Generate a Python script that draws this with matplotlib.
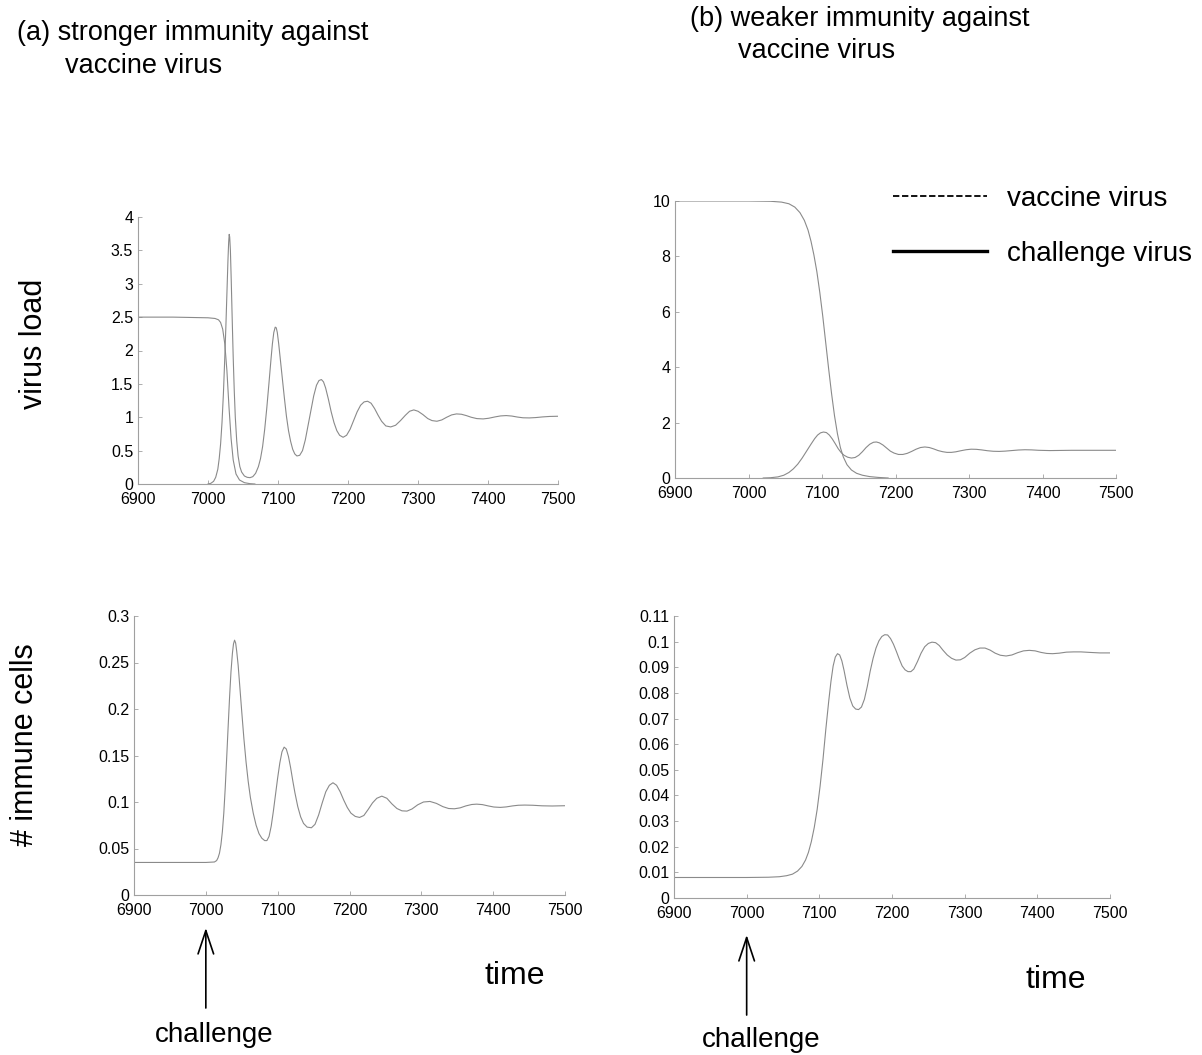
import matplotlib
matplotlib.use("Agg")
import matplotlib.pyplot as plt
from matplotlib.lines import Line2D
from matplotlib.ticker import FuncFormatter

plt.rcParams["font.family"] = ["Liberation Sans", "DejaVu Sans"]

# (a) virus load, vaccine virus (falls after challenge)
tA_vac = [6900, 6950, 7000, 7010, 7015, 7018, 7021, 7024, 7027, 7030, 7033,
          7036, 7040, 7045, 7052, 7060, 7067]
vA_vac = [2.50, 2.50, 2.49, 2.48, 2.46, 2.42, 2.32, 2.10, 1.70, 1.15, 0.68,
          0.36, 0.15, 0.06, 0.02, 0.005, 0.0]

# (a) virus load, challenge virus
tA_ch = [7000, 7004, 7008, 7011, 7014, 7016, 7018, 7020, 7022, 7024, 7025.5,
         7027, 7028.5, 7029.5, 7030.3, 7031, 7032, 7033.2, 7034.5, 7036, 7037.5,
         7039, 7041, 7043, 7045.5, 7048, 7052, 7056, 7060, 7064, 7068, 7072,
         7075, 7078, 7081, 7084, 7087, 7090, 7092, 7094, 7096, 7097.5, 7099,
         7101, 7103, 7106, 7109, 7112, 7115, 7118, 7121, 7124, 7127, 7131,
         7135, 7139, 7143, 7147, 7151, 7155, 7158.5, 7162, 7165, 7168, 7172,
         7176, 7180, 7184, 7188, 7193, 7198, 7203, 7208, 7213, 7218, 7223,
         7228, 7233, 7238, 7243, 7248, 7254, 7261, 7268, 7275, 7282, 7288,
         7294, 7300, 7307, 7314, 7320, 7327, 7334, 7341, 7348, 7355, 7362,
         7369, 7376, 7384, 7393, 7401, 7410, 7418, 7426, 7434, 7442, 7450,
         7459, 7468, 7478, 7488, 7500]
vA_ch = [0.0, 0.01, 0.04, 0.1, 0.22, 0.38, 0.6, 0.92, 1.35, 1.9, 2.35,
         2.85, 3.35, 3.62, 3.74, 3.7, 3.5, 3.05, 2.5, 1.9, 1.4,
         1.0, 0.65, 0.42, 0.26, 0.18, 0.12, 0.1, 0.095, 0.11, 0.16, 0.26,
         0.38, 0.56, 0.82, 1.14, 1.5, 1.87, 2.1, 2.27, 2.35, 2.34, 2.27,
         2.1, 1.9, 1.6, 1.3, 1.02, 0.8, 0.64, 0.52, 0.45, 0.42, 0.43,
         0.5, 0.66, 0.88, 1.1, 1.32, 1.48, 1.55, 1.565, 1.53, 1.44, 1.27,
         1.08, 0.92, 0.8, 0.73, 0.70, 0.73, 0.82, 0.95, 1.08, 1.18, 1.23,
         1.24, 1.21, 1.13, 1.03, 0.94, 0.87, 0.855, 0.88, 0.95, 1.03, 1.09,
         1.11, 1.09, 1.04, 0.98, 0.95, 0.94, 0.96, 1.0, 1.035, 1.05, 1.045,
         1.025, 1.0, 0.98, 0.975, 0.985, 1.005, 1.02, 1.025, 1.018, 1.003, 0.992,
         0.99, 0.995, 1.005, 1.012, 1.015]

# (b) virus load, vaccine virus
tB_vac = [6900, 7000, 7030, 7045, 7055, 7063, 7070, 7076, 7081, 7085, 7089,
          7093, 7097, 7101, 7105, 7109, 7113, 7117, 7121, 7125, 7129, 7134,
          7140, 7147, 7155, 7165, 7177, 7190]
vB_vac = [10, 10, 9.99, 9.96, 9.9, 9.78, 9.58, 9.3, 8.95, 8.55, 8.05,
          7.45, 6.7, 5.85, 4.9, 3.95, 3.05, 2.25, 1.6, 1.1, 0.76, 0.48,
          0.29, 0.17, 0.1, 0.05, 0.02, 0.0]

# (b) virus load, challenge virus
tB_ch = [7020, 7030, 7040, 7048, 7055, 7061, 7067, 7073, 7079, 7085, 7090,
         7094, 7098, 7102, 7106, 7110, 7114, 7118, 7122, 7126, 7130, 7135,
         7140, 7145, 7150, 7155, 7160, 7165, 7170, 7174, 7178, 7183, 7188,
         7193, 7198, 7204, 7210, 7216, 7222, 7228, 7234, 7240, 7246, 7252,
         7258, 7264, 7270, 7276, 7282, 7289, 7296, 7303, 7310, 7317, 7325,
         7333, 7341, 7349, 7358, 7367, 7376, 7385, 7395, 7410, 7425, 7440,
         7460, 7480, 7500]
vB_ch = [0.0, 0.01, 0.04, 0.1, 0.2, 0.33, 0.5, 0.72, 0.97, 1.22, 1.42,
         1.55, 1.63, 1.66, 1.64, 1.55, 1.41, 1.24, 1.06, 0.92, 0.82, 0.75,
         0.72, 0.74, 0.82, 0.95, 1.1, 1.22, 1.29, 1.3, 1.27, 1.19, 1.08,
         0.97, 0.9, 0.85, 0.85, 0.89, 0.96, 1.04, 1.1, 1.12, 1.1, 1.05,
         0.99, 0.95, 0.925, 0.925, 0.945, 0.985, 1.02, 1.04, 1.035, 1.015, 0.985,
         0.965, 0.96, 0.97, 0.99, 1.01, 1.02, 1.015, 1.0, 0.99, 0.995, 1.0,
         1.0, 1.0, 1.0]

# (a) immune cells
tC = [6900, 6950, 7000, 7012, 7015, 7017, 7019, 7021, 7023, 7025, 7027,
      7029, 7031, 7033, 7035, 7037, 7038.5, 7040, 7041.5, 7043, 7045, 7047.5,
      7050, 7053, 7056, 7059, 7062, 7066, 7070, 7074, 7078, 7082, 7085,
      7088, 7091, 7094, 7097, 7100, 7103, 7106, 7109, 7112, 7115, 7118,
      7121, 7124, 7128, 7132, 7136, 7141, 7147, 7152, 7157, 7162, 7167,
      7172, 7177, 7182, 7187, 7192, 7197, 7202, 7208, 7214, 7220, 7226,
      7232, 7238, 7245, 7252, 7259, 7266, 7273, 7280, 7287, 7295, 7303,
      7312, 7321, 7330, 7338, 7346, 7354, 7362, 7370, 7377, 7385, 7393,
      7401, 7410, 7418, 7427, 7435, 7444, 7455, 7468, 7482, 7500]
vC = [0.035, 0.035, 0.035, 0.0355, 0.037, 0.040, 0.045, 0.054, 0.068, 0.088, 0.115,
      0.147, 0.18, 0.212, 0.24, 0.26, 0.27, 0.274, 0.271, 0.262, 0.247, 0.222,
      0.197, 0.168, 0.143, 0.122, 0.105, 0.088, 0.075, 0.066, 0.061, 0.0585, 0.0585,
      0.063, 0.074, 0.09, 0.108, 0.126, 0.142, 0.154, 0.159, 0.157, 0.149, 0.137,
      0.123, 0.11, 0.095, 0.084, 0.077, 0.073, 0.0723, 0.076, 0.086, 0.099, 0.111,
      0.118, 0.1207, 0.118, 0.111, 0.102, 0.094, 0.088, 0.0845, 0.0834, 0.0855, 0.092,
      0.099, 0.104, 0.1063, 0.104, 0.098, 0.093, 0.0905, 0.0902, 0.0925, 0.097, 0.1,
      0.1006, 0.0985, 0.095, 0.093, 0.0927, 0.0937, 0.0958, 0.0973, 0.0977, 0.0972, 0.0958,
      0.0946, 0.0942, 0.0947, 0.0958, 0.0965, 0.0967, 0.0965, 0.0959, 0.0957, 0.096]

# (b) immune cells
tD = [6900, 6950, 7000, 7030, 7045, 7055, 7063, 7070, 7076, 7081, 7085,
      7089, 7093, 7097, 7101, 7105, 7109, 7113, 7116, 7119, 7122, 7125,
      7128, 7131, 7134, 7138, 7142, 7146, 7150, 7154, 7158, 7162, 7166,
      7170, 7174, 7178, 7182, 7186, 7190, 7194, 7198, 7202, 7206, 7210,
      7214, 7218, 7222, 7226, 7230, 7235, 7240, 7245, 7250, 7255, 7260,
      7265, 7270, 7276, 7282, 7288, 7294, 7300, 7307, 7314, 7321, 7328,
      7335, 7342, 7349, 7357, 7365, 7373, 7381, 7389, 7397, 7405, 7413,
      7421, 7430, 7440, 7450, 7460, 7472, 7486, 7500]
vD = [0.008, 0.008, 0.008, 0.0081, 0.0083, 0.0087, 0.0093, 0.0105, 0.0123, 0.0148, 0.0178,
      0.022, 0.0275, 0.0345, 0.0435, 0.054, 0.066, 0.077, 0.0845, 0.0905, 0.094, 0.0953,
      0.0948, 0.0925, 0.0888, 0.083, 0.078, 0.0749, 0.0737, 0.0735, 0.0745, 0.0775, 0.0825,
      0.0885, 0.0935, 0.0975, 0.1003, 0.102, 0.1027, 0.1026, 0.1012, 0.099, 0.0962, 0.0932,
      0.0905, 0.089, 0.0883, 0.0883, 0.0893, 0.0922, 0.0955, 0.098, 0.0993, 0.0998, 0.0996,
      0.0985, 0.0967, 0.0948, 0.0935, 0.0928, 0.0929, 0.0938, 0.0955, 0.0968, 0.0975, 0.0975,
      0.0967, 0.0955, 0.0947, 0.0944, 0.0948, 0.0957, 0.0964, 0.0966, 0.0964, 0.0958, 0.0954,
      0.0953, 0.0955, 0.0959, 0.096, 0.096, 0.0958, 0.0956, 0.0956]

x_ticks = [6900, 7000, 7100, 7200, 7300, 7400, 7500]
yA_ticks = [0, 0.5, 1, 1.5, 2, 2.5, 3, 3.5, 4]
yB_ticks = [0, 2, 4, 6, 8, 10]
yC_ticks = [0, 0.05, 0.1, 0.15, 0.2, 0.25, 0.3]
yD_ticks = [0, 0.01, 0.02, 0.03, 0.04, 0.05, 0.06, 0.07, 0.08, 0.09, 0.1, 0.11]

W, H = 1202, 1055
LINE = "#8a8a8a"
SPINE = "#a0a0a0"


def rect(x0, y0, x1, y1):
    return [x0 / W, 1 - y1 / H, (x1 - x0) / W, (y1 - y0) / H]


def style(ax, yticks):
    ax.set_xlim(6900, 7500)
    ax.set_ylim(yticks[0], yticks[-1])
    ax.set_xticks(x_ticks)
    ax.set_yticks(yticks)
    ax.yaxis.set_major_formatter(FuncFormatter(lambda v, p: "%g" % round(v, 4)))
    for s in ["top", "right"]:
        ax.spines[s].set_visible(False)
    for s in ["left", "bottom"]:
        ax.spines[s].set_color(SPINE)
        ax.spines[s].set_linewidth(0.8)
    ax.tick_params(direction="in", length=3, width=0.6, color=SPINE,
                   labelsize=11.5)
    ax.tick_params(axis="x", pad=6)
    ax.tick_params(axis="y", pad=3.5)


fig = plt.figure(figsize=(W / 100, H / 100), dpi=100)

axA = fig.add_axes(rect(138, 217, 558, 484))
axA.plot(tA_vac, vA_vac, color=LINE, lw=0.8)
axA.plot(tA_ch, vA_ch, color=LINE, lw=0.8)
style(axA, yA_ticks)

axB = fig.add_axes(rect(675, 201, 1116, 478))
axB.plot(tB_vac, vB_vac, color=LINE, lw=0.8)
axB.plot(tB_ch, vB_ch, color=LINE, lw=0.8)
style(axB, yB_ticks)

axC = fig.add_axes(rect(134, 616, 565, 895))
axC.plot(tC, vC, color=LINE, lw=0.8)
style(axC, yC_ticks)

axD = fig.add_axes(rect(674, 616, 1110, 898))
axD.plot(tD, vD, color=LINE, lw=0.8)
style(axD, yD_ticks)

# legend
handles = [Line2D([], [], color="black", ls=(0, (3.5, 1.5)), lw=1.3),
           Line2D([], [], color="black", lw=2.4)]
axB.legend(handles, ["vaccine virus", "challenge virus"], loc="upper left",
           bbox_to_anchor=(893 / W, 1 - 186 / H), bbox_transform=fig.transFigure,
           frameon=False, fontsize=20, handlelength=3.4, handletextpad=0.7,
           labelspacing=1.03, borderpad=0, borderaxespad=0)

# titles and labels
fig.text(17 / W, 1 - 33 / H, "(a) stronger immunity against", fontsize=19.5,
         ha="left", va="center")
fig.text(65 / W, 1 - 66 / H, "vaccine virus", fontsize=19.5, ha="left", va="center")
fig.text(690 / W, 1 - 19 / H, "(b) weaker immunity against", fontsize=19.5,
         ha="left", va="center")
fig.text(738 / W, 1 - 51 / H, "vaccine virus", fontsize=19.5, ha="left", va="center")

fig.text(34 / W, 1 - 344 / H, "virus load", fontsize=22, rotation=90,
         ha="center", va="center")
fig.text(25 / W, 1 - 745 / H, "# immune cells", fontsize=22, rotation=90,
         ha="center", va="center")

fig.text(515 / W, 1 - 976 / H, "time", fontsize=23, ha="center", va="center")
fig.text(1056 / W, 1 - 980 / H, "time", fontsize=23, ha="center", va="center")

# challenge arrows at t = 7000
for ax, tip, tail in [(axC, -0.118, -0.405), (axD, -0.131, -0.415)]:
    ax.annotate("", xy=(7000, tip), xytext=(7000, tail),
                xycoords=ax.get_xaxis_transform(),
                textcoords=ax.get_xaxis_transform(),
                arrowprops=dict(arrowstyle="->,head_length=1.2,head_width=0.4",
                                color="black", lw=1.2, mutation_scale=14,
                                shrinkA=0, shrinkB=0),
                annotation_clip=False)

fig.text(214 / W, 1 - 1035 / H, "challenge", fontsize=20, ha="center", va="center")
fig.text(761 / W, 1 - 1040 / H, "challenge", fontsize=20, ha="center", va="center")

fig.savefig("out.png", dpi=100)
